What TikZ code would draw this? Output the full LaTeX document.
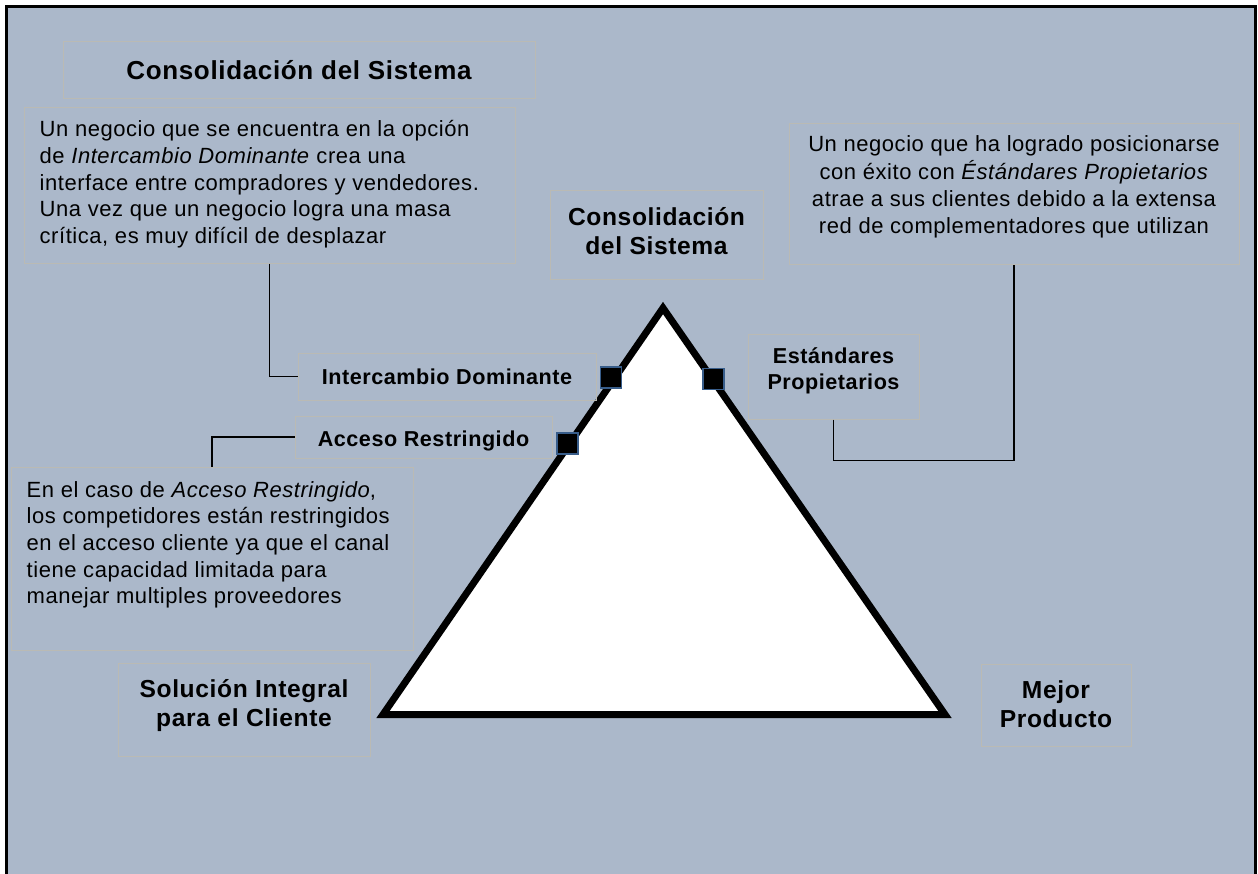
\documentclass[tikz,border=0pt]{standalone}
\usepackage{fontspec}
\setmainfont{Liberation Sans}[LetterSpace=2.5]
\usetikzlibrary{calc}
\definecolor{panel}{RGB}{171,184,202}
\definecolor{boxline}{RGB}{186,186,180}
\definecolor{markline}{RGB}{56,93,138}
\begin{document}
\begin{tikzpicture}[x=1pt,y=-1pt,
  box/.style={draw=boxline, line width=1pt, inner sep=0pt, rectangle},
  body/.style={font=\fontsize{22}{26.6}\selectfont, inner sep=0pt},
  headline/.style={font=\fontsize{24.6}{29.4}\selectfont\bfseries, align=center, inner sep=0pt},
  tag/.style={font=\fontsize{21.6}{26}\selectfont\bfseries, align=center, inner sep=0pt},
  link/.style={draw=black, line width=1.3pt},
  marker/.style={draw=markline, fill=black, line width=1.2pt, minimum size=21pt, inner sep=0pt}
]
% page and panel
\path[use as bounding box] (0,0) rectangle (1258,873);
\fill[white] (0,0) rectangle (1258,873);
\clip (0,0) rectangle (1258,873);
\fill[panel] (6.5,6.5) rectangle (1255,900);
\draw[line width=3pt] (6.5,900) -- (6.5,6.5) -- (1255,6.5) -- (1255,900);

% the strategy triangle
\coordinate (apex) at (663,308);
\coordinate (lc) at (383,714.5);
\coordinate (rc) at (945,714.5);
\draw[line width=7pt, fill=white, line join=miter, miter limit=10] (apex) -- (lc) -- (rc) -- cycle;

% boxes
\node[box, minimum width=472pt, minimum height=57pt] (titlebox) at (299,69.5) {};
\node[headline, font=\fontsize{26}{30}\selectfont\bfseries] (titletext) at ([yshift=-1pt]titlebox.center) {Consolidación del Sistema};

\node[box, minimum width=491pt, minimum height=156pt] (dombox) at (269.5,185) {};
\node[body, anchor=north west, align=left] (domtext) at ($(dombox.north west)+(16,11.5)$)
  {\strut Un negocio que se encuentra en la opción\\
   de \textit{Intercambio Dominante} crea una\\
   interface entre compradores y vendedores.\\
   Una vez que un negocio logra una masa\\
   crítica, es muy difícil de desplazar};

\node[box, minimum width=213pt, minimum height=89pt] (topbox) at (656.5,234.5) {};
\node[headline] (toptext) at ([yshift=3.7pt]topbox.center) {Consolidación\\del Sistema};

\node[box, minimum width=450pt, minimum height=141pt] (rbox) at (1014,193.5) {};
\node[body, anchor=north, align=center] (rtext) at ($(rbox.north)+(0,10.5)$)
  {\strut Un negocio que ha logrado posicionarse\\
   con éxito con \textit{Éstándares Propietarios}\\
   atrae a sus clientes debido a la extensa\\
   red de complementadores que utilizan};

\node[box, minimum width=298pt, minimum height=47pt] (interbox) at (447,376.5) {};
\node[tag] (intertext) at (interbox.center) {Intercambio Dominante};

\node[box, minimum width=257pt, minimum height=42pt] (accbox) at (423.5,437) {};
\node[tag] (acctext) at ([yshift=-4pt]accbox.center) {Acceso Restringido};

\node[box, minimum width=171pt, minimum height=85pt] (estbox) at (833.5,376.5) {};
\node[tag] (esttext) at ([yshift=6pt]estbox.center) {Estándares\\Propietarios};

\node[box, minimum width=402pt, minimum height=183pt] (accdesc) at (212,558.5) {};
\node[body, anchor=north west, align=left] (accdtext) at ($(accdesc.north west)+(16,12)$)
  {\strut En el caso de \textit{Acceso Restringido},\\
   los competidores están restringidos\\
   en el acceso cliente ya que el canal\\
   tiene capacidad limitada para\\
   manejar multiples proveedores};

\node[box, minimum width=252pt, minimum height=93pt] (solbox) at (244,709.5) {};
\node[headline] (soltext) at ([yshift=4pt]solbox.center) {Solución Integral\\para el Cliente};

\node[box, minimum width=150pt, minimum height=82pt] (prodbox) at (1056,705) {};
\node[headline] (prodtext) at ([yshift=1pt]prodbox.center) {Mejor\\Producto};

% position markers on the triangle
\node[marker] (mdom) at (611,377.5) {};
\node[marker] (macc) at (567.5,443.5) {};
\node[marker] (mest) at (713.5,379) {};

% connectors
\draw[link] (dombox.south) |- (interbox.west);
\draw[link] (accbox.west) -| (accdesc.north);
\draw[link] (estbox.south) -- ++(0,41) -| (rbox.south);
\end{tikzpicture}
\end{document}
